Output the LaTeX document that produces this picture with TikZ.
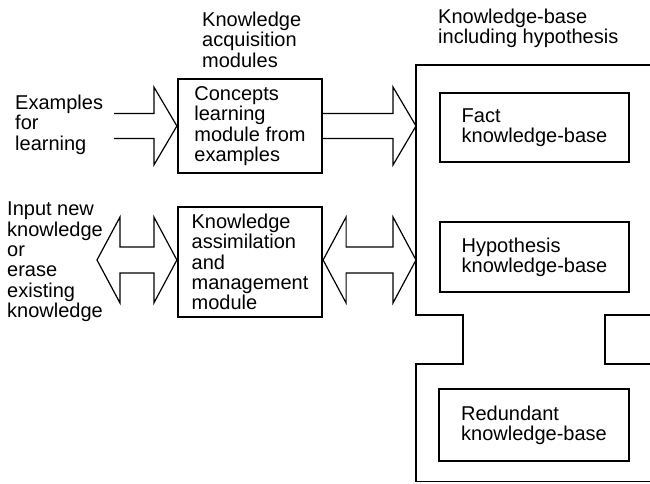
\documentclass[tikz,border=0pt]{standalone}
\usepackage{fontspec}
\setmainfont{Liberation Sans}
\usetikzlibrary{calc}
\tikzset{
  kbox/.style={draw,line width=2.2pt,align=left,inner sep=0pt},
  lbl/.style={align=left,anchor=north west,inner sep=0pt},
  fatline/.style={line width=1.2pt,line join=miter},
}
% hollow arrow: #1 tail, #2 tip
\newcommand{\onearrow}[2]{\draw[fatline] ($(#1)+(0,-12.5)$) -- ($(#2)+(-23,-12.5)$) -- ($(#2)+(-23,-39)$) -- (#2) -- ($(#2)+(-23,39)$) -- ($(#2)+(-23,12.5)$) -- ($(#1)+(0,12.5)$);}
% hollow double arrow: #1 left tip, #2 right tip
\newcommand{\twoarrow}[2]{\draw[fatline] (#1) -- ($(#1)+(23,-43)$) -- ($(#1)+(23,-13)$) -- ($(#2)+(-23,-13)$) -- ($(#2)+(-23,-43)$) -- (#2) -- ($(#2)+(-23,43)$) -- ($(#2)+(-23,13)$) -- ($(#1)+(23,13)$) -- ($(#1)+(23,43)$) -- cycle;}
\begin{document}
\begin{tikzpicture}[x=1pt,y=-1pt,font=\fontsize{20}{20.3}\selectfont]
\useasboundingbox (0,0) rectangle (650,483);
% headings
\node[lbl] (hacq) at (202,12) {Knowledge\\acquisition\\modules};
\node[lbl] (hkb) at (438,9) {Knowledge-base\\including hypothesis};
% inputs
\node[lbl] (exl) at (15,95) {Examples\\for\\learning};
\node[lbl] (inl) at (7,202) {Input new\\knowledge\\or\\erase\\existing\\knowledge};
% modules
\node[kbox,minimum width=144pt,minimum height=94pt] (clm) at (250,126) {Concepts\\learning\\module from\\examples};
\node[kbox,minimum width=144pt,minimum height=110pt] (kam) at (250,262) {Knowledge\\assimilation\\and\\management\\module};
% knowledge-base
\draw[fatline] (650,65) -- (416,65) -- (416,315) -- (463,315) -- (463,364) -- (416,364) -- (416,481.5) -- (650,481.5);
\draw[fatline] (650,315) -- (605,315) -- (605,364) -- (650,364);
\coordinate (kbin1) at (416,126); \coordinate (kbin2) at (416,260);
\node[kbox,minimum width=189pt,minimum height=69pt] (fkb) at (534.5,127.5) {Fact\\knowledge-base};
\node[kbox,minimum width=189pt,minimum height=70pt] (hykb) at (534.5,257) {Hypothesis\\knowledge-base};
\node[kbox,minimum width=190pt,minimum height=72pt] (rkb) at (534,425) {Redundant\\knowledge-base};
% arrows
\coordinate (exin) at (114,126); \coordinate (inp) at (97,260);
\onearrow{exin}{clm.west}
\onearrow{clm.east}{kbin1}
\twoarrow{inp}{inp -| kam.west}
\twoarrow{kbin2 -| kam.east}{kbin2}
\end{tikzpicture}
\end{document}
